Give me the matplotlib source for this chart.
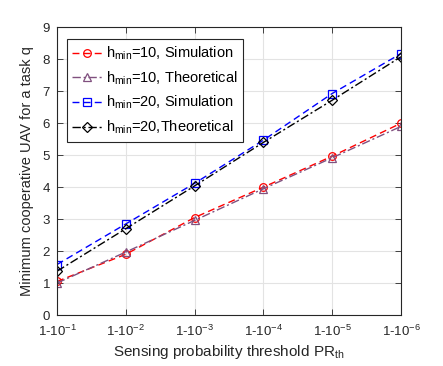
import matplotlib
matplotlib.use('Agg')
import matplotlib.pyplot as plt
from matplotlib import rcParams

rcParams['font.family'] = ['Liberation Sans', 'DejaVu Sans']
rcParams['mathtext.fontset'] = 'custom'
rcParams['mathtext.rm'] = 'Liberation Sans'
rcParams['mathtext.it'] = 'Liberation Sans'
rcParams['mathtext.default'] = 'regular'

# Data
x_idx = [1, 2, 3, 4, 5, 6]
x_labels = ['1-10$^{-1}$', '1-10$^{-2}$', '1-10$^{-3}$', '1-10$^{-4}$', '1-10$^{-5}$', '1-10$^{-6}$']
h10_sim = [1.05, 1.9, 3.05, 4.0, 4.97, 6.0]
h10_theo = [1.0, 1.97, 2.96, 3.95, 4.92, 5.9]
h20_sim = [1.58, 2.85, 4.12, 5.47, 6.93, 8.18]
h20_theo = [1.37, 2.7, 4.04, 5.4, 6.72, 8.08]

fig = plt.figure(figsize=(4.43, 3.66), dpi=100)
ax = fig.add_axes([0.1287, 0.1393, 0.7765, 0.786])

ms = 5.5
ax.plot(x_idx, h10_sim, color='red', ls=(0, (5, 3)), lw=1.0, marker='o', ms=ms,
        mfc='none', mew=0.9, label='h$_{min}$=10, Simulation')
ax.plot(x_idx, h10_theo, color='#80507f', ls=(0, (6, 2, 1.5, 2)), lw=1.0, marker='^', ms=ms,
        mfc='none', mew=0.9, label='h$_{min}$=10, Theoretical')
ax.plot(x_idx, h20_sim, color='blue', ls=(0, (5, 3)), lw=1.0, marker='s', ms=ms,
        mfc='none', mew=0.9, label='h$_{min}$=20, Simulation')
ax.plot(x_idx, h20_theo, color='black', ls=(0, (6, 2, 1.5, 2)), lw=1.0, marker='D', ms=ms * 0.85,
        mfc='none', mew=0.9, label='h$_{min}$=20,Theoretical')

ax.set_xlim(1, 6)
ax.set_ylim(0, 9)
ax.set_xticks(x_idx)
ax.set_xticklabels(x_labels)
ax.set_yticks(range(0, 10))
ax.tick_params(direction='in', labelsize=9.5, length=4, width=0.6, colors='#262626',
               top=True, right=True)
ax.tick_params(axis='x', pad=6)
ax.tick_params(axis='y', pad=5)
ax.grid(True, color='#e3e3e3', lw=0.8)
ax.set_axisbelow(True)
for s in ax.spines.values():
    s.set_color('#262626')
    s.set_linewidth(0.8)

ax.set_xlabel('Sensing probability threshold PR$_{th}$', fontsize=11, color='#262626', labelpad=3)
ax.set_ylabel('Minimum cooperative UAV for a task q', fontsize=10.5, color='#262626', labelpad=6)

leg = ax.legend(loc='upper left', bbox_to_anchor=(0.028, 0.96), fontsize=10.5,
                fancybox=False, edgecolor='#262626', framealpha=1,
                handlelength=2.0, handletextpad=0.3, borderpad=0.4,
                labelspacing=0.5, borderaxespad=0)
leg.get_frame().set_linewidth(0.8)

fig.savefig('out.png', dpi=100)
